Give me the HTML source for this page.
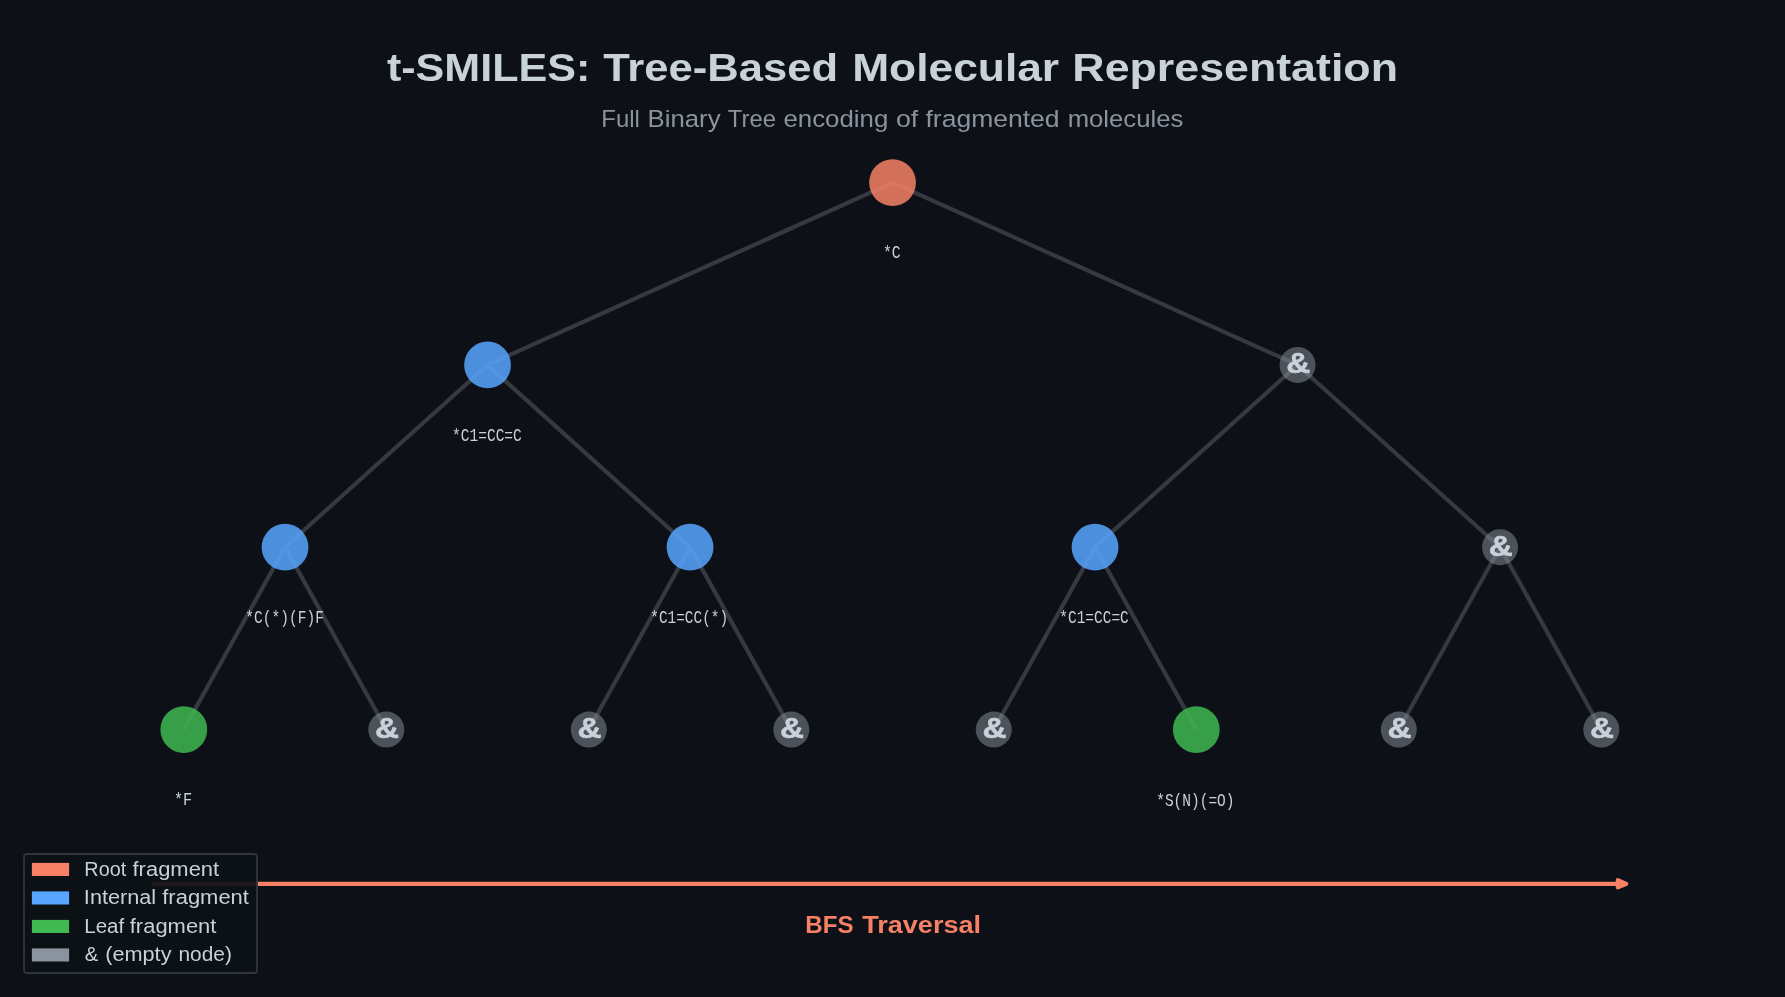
<!DOCTYPE html>
<html lang="en">
<head>
<meta charset="utf-8">
<title>t-SMILES: Tree-Based Molecular Representation</title>
<style>
html,body{margin:0;padding:0;background:#0d1117;}
body{width:1785px;height:997px;overflow:hidden;font-family:"Liberation Sans",sans-serif;}
svg{display:block;will-change:transform;}
text{white-space:pre;font-family:"Liberation Sans",sans-serif;}
.title{font-weight:bold;font-size:38.75px;fill:#c9d1d9;}
.sub{font-size:23.93px;fill:#8b949e;}
.bfs{font-weight:bold;font-size:23.93px;fill:#f78166;}
.leg{font-size:19.57px;fill:#c9d1d9;}
.lab{font-family:"Liberation Mono",monospace;font-size:18.2px;fill:#c9d1d9;}
.amp{font-weight:bold;font-size:29.6px;fill:#c9d1d9;stroke:#c9d1d9;stroke-width:0.5px;}
</style>
</head>
<body>
<svg width="1785" height="997" viewBox="0 0 1785 997">
<!-- tree edges -->
<g stroke="#363a40" stroke-width="4.17" fill="none">
<line x1="892.55" y1="182.6" x2="487.55" y2="364.95"/>
<line x1="892.55" y1="182.6" x2="1297.55" y2="364.95"/>
<line x1="487.55" y1="364.95" x2="285.05" y2="547.2"/>
<line x1="487.55" y1="364.95" x2="690.05" y2="547.2"/>
<line x1="1297.55" y1="364.95" x2="1095.05" y2="547.2"/>
<line x1="1297.55" y1="364.95" x2="1500.05" y2="547.2"/>
<line x1="285.05" y1="547.2" x2="183.80" y2="729.55"/>
<line x1="285.05" y1="547.2" x2="386.30" y2="729.55"/>
<line x1="690.05" y1="547.2" x2="588.80" y2="729.55"/>
<line x1="690.05" y1="547.2" x2="791.30" y2="729.55"/>
<line x1="1095.05" y1="547.2" x2="993.80" y2="729.55"/>
<line x1="1095.05" y1="547.2" x2="1196.30" y2="729.55"/>
<line x1="1500.05" y1="547.2" x2="1398.80" y2="729.55"/>
<line x1="1500.05" y1="547.2" x2="1601.30" y2="729.55"/>
</g>
<!-- nodes -->
<circle cx="892.55" cy="182.6" r="23.4" fill="#f78166" fill-opacity="0.85"/>
<text class="lab" x="882.96" y="258.15" textLength="17.75" lengthAdjust="spacingAndGlyphs">*C</text>
<circle cx="487.55" cy="364.95" r="23.4" fill="#58a6ff" fill-opacity="0.85"/>
<text class="lab" x="451.99" y="440.70" textLength="69.86" lengthAdjust="spacingAndGlyphs">*C1=CC=C</text>
<circle cx="1297.55" cy="364.95" r="18" fill="#8b949e" fill-opacity="0.5"/>
<text class="amp" x="1286.35" y="373.25" textLength="24.00" lengthAdjust="spacingAndGlyphs">&amp;</text>
<circle cx="285.05" cy="547.2" r="23.4" fill="#58a6ff" fill-opacity="0.85"/>
<text class="lab" x="245.29" y="622.65" textLength="78.59" lengthAdjust="spacingAndGlyphs">*C(*)(F)F</text>
<circle cx="690.05" cy="547.2" r="23.4" fill="#58a6ff" fill-opacity="0.85"/>
<text class="lab" x="650.31" y="622.70" textLength="77.77" lengthAdjust="spacingAndGlyphs">*C1=CC(*)</text>
<circle cx="1095.05" cy="547.2" r="23.4" fill="#58a6ff" fill-opacity="0.85"/>
<text class="lab" x="1059.30" y="622.70" textLength="69.45" lengthAdjust="spacingAndGlyphs">*C1=CC=C</text>
<circle cx="1500.05" cy="547.2" r="18" fill="#8b949e" fill-opacity="0.5"/>
<text class="amp" x="1488.85" y="555.50" textLength="24.00" lengthAdjust="spacingAndGlyphs">&amp;</text>
<circle cx="183.80" cy="729.55" r="23.4" fill="#3fb950" fill-opacity="0.85"/>
<text class="lab" x="173.91" y="804.90" textLength="18.22" lengthAdjust="spacingAndGlyphs">*F</text>
<circle cx="386.30" cy="729.55" r="18" fill="#8b949e" fill-opacity="0.5"/>
<text class="amp" x="375.10" y="737.85" textLength="24.00" lengthAdjust="spacingAndGlyphs">&amp;</text>
<circle cx="588.80" cy="729.55" r="18" fill="#8b949e" fill-opacity="0.5"/>
<text class="amp" x="577.60" y="737.85" textLength="24.00" lengthAdjust="spacingAndGlyphs">&amp;</text>
<circle cx="791.30" cy="729.55" r="18" fill="#8b949e" fill-opacity="0.5"/>
<text class="amp" x="780.10" y="737.85" textLength="24.00" lengthAdjust="spacingAndGlyphs">&amp;</text>
<circle cx="993.80" cy="729.55" r="18" fill="#8b949e" fill-opacity="0.5"/>
<text class="amp" x="982.60" y="737.85" textLength="24.00" lengthAdjust="spacingAndGlyphs">&amp;</text>
<circle cx="1196.30" cy="729.55" r="23.4" fill="#3fb950" fill-opacity="0.85"/>
<text class="lab" x="1156.20" y="806.00" textLength="78.32" lengthAdjust="spacingAndGlyphs">*S(N)(=O)</text>
<circle cx="1398.80" cy="729.55" r="18" fill="#8b949e" fill-opacity="0.5"/>
<text class="amp" x="1387.60" y="737.85" textLength="24.00" lengthAdjust="spacingAndGlyphs">&amp;</text>
<circle cx="1601.30" cy="729.55" r="18" fill="#8b949e" fill-opacity="0.5"/>
<text class="amp" x="1590.10" y="737.85" textLength="24.00" lengthAdjust="spacingAndGlyphs">&amp;</text>
<!-- BFS arrow -->
<line x1="152" y1="883.8" x2="1618" y2="883.8" stroke="#f78166" stroke-width="4.17"/>
<path d="M1617.8 880.1 L1626.4 883.8 L1617.8 887.5 Z" fill="#f78166" stroke="#f78166" stroke-width="4" stroke-linejoin="round"/>
<!-- legend -->
<rect x="24" y="854" width="233" height="119" rx="3" ry="3" fill="#0d1117" fill-opacity="0.93" stroke="#30363d" stroke-width="1.8"/>
<rect x="31.9" y="862.90" width="37.2" height="13.1" fill="#f78166"/>
<rect x="31.9" y="891.40" width="37.2" height="13.1" fill="#58a6ff"/>
<rect x="31.9" y="919.90" width="37.2" height="13.1" fill="#3fb950"/>
<rect x="31.9" y="948.40" width="37.2" height="13.1" fill="#8b949e"/>
<text class="leg" y="875.80"><tspan x="84.30" textLength="41.95" lengthAdjust="spacingAndGlyphs">Root</tspan> <tspan x="132.52" textLength="86.66" lengthAdjust="spacingAndGlyphs">fragment</tspan></text>
<text class="leg" y="904.30"><tspan x="83.89" textLength="72.27" lengthAdjust="spacingAndGlyphs">Internal</tspan> <tspan x="162.27" textLength="86.66" lengthAdjust="spacingAndGlyphs">fragment</tspan></text>
<text class="leg" y="932.80"><tspan x="84.25" textLength="39.95" lengthAdjust="spacingAndGlyphs">Leaf</tspan> <tspan x="129.77" textLength="86.66" lengthAdjust="spacingAndGlyphs">fragment</tspan></text>
<text class="leg" y="961.30"><tspan x="84.79" textLength="13.52" lengthAdjust="spacingAndGlyphs">&amp;</tspan> <tspan x="105.21" textLength="66.29" lengthAdjust="spacingAndGlyphs">(empty</tspan> <tspan x="178.49" textLength="53.42" lengthAdjust="spacingAndGlyphs">node)</tspan></text>
<!-- headings -->
<text class="title" y="81.30"><tspan x="386.93" textLength="203.35" lengthAdjust="spacingAndGlyphs">t-SMILES:</tspan> <tspan x="603.17" textLength="234.92" lengthAdjust="spacingAndGlyphs">Tree-Based</tspan> <tspan x="852.17" textLength="206.97" lengthAdjust="spacingAndGlyphs">Molecular</tspan> <tspan x="1072.39" textLength="325.59" lengthAdjust="spacingAndGlyphs">Representation</tspan></text>
<text class="sub" y="127.30"><tspan x="601.28" textLength="38.56" lengthAdjust="spacingAndGlyphs">Full</tspan> <tspan x="647.63" textLength="72.90" lengthAdjust="spacingAndGlyphs">Binary</tspan> <tspan x="727.76" textLength="48.23" lengthAdjust="spacingAndGlyphs">Tree</tspan> <tspan x="783.43" textLength="104.91" lengthAdjust="spacingAndGlyphs">encoding</tspan> <tspan x="895.90" textLength="22.33" lengthAdjust="spacingAndGlyphs">of</tspan> <tspan x="925.48" textLength="134.16" lengthAdjust="spacingAndGlyphs">fragmented</tspan> <tspan x="1067.66" textLength="115.63" lengthAdjust="spacingAndGlyphs">molecules</tspan></text>
<text class="bfs" y="932.50"><tspan x="805.26" textLength="48.28" lengthAdjust="spacingAndGlyphs">BFS</tspan> <tspan x="862.22" textLength="118.80" lengthAdjust="spacingAndGlyphs">Traversal</tspan></text>
</svg>
</body>
</html>
